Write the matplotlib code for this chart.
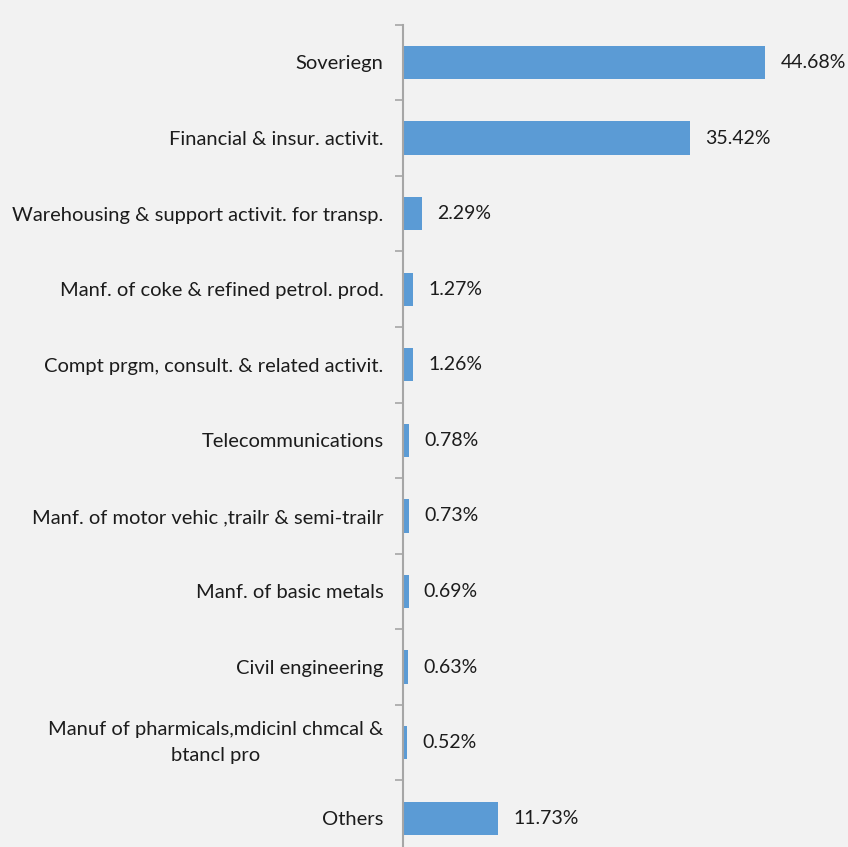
import matplotlib
matplotlib.use("Agg")
import matplotlib.pyplot as plt
import numpy as np

categories = [
    "Soveriegn",
    "Financial & insur. activit.",
    "Warehousing & support activit. for transp.",
    "Manf. of coke & refined petrol. prod.",
    "Compt prgm, consult. & related activit.",
    "Telecommunications",
    "Manf. of motor vehic ,trailr & semi-trailr",
    "Manf. of basic metals",
    "Civil engineering",
    "Manuf of pharmicals,mdicinl chmcal &\nbtancl pro",
    "Others",
]
values = [44.68, 35.42, 2.29, 1.27, 1.26, 0.78, 0.73, 0.69, 0.63, 0.52, 11.73]
value_labels = ["44.68%", "35.42%", "2.29%", "1.27%", "1.26%", "0.78%",
                "0.73%", "0.69%", "0.63%", "0.52%", "11.73%"]

plt.rcParams['font.family'] = ['Lato', 'DejaVu Sans']
bg = "#f2f2f2"
fig = plt.figure(figsize=(8.48, 8.47), dpi=100, facecolor=bg)
ax = fig.add_axes([403/848, -9/847, 1 - 403/848, (856 - 24.7)/847])
ax.set_facecolor(bg)

n = len(categories)
y = np.arange(n)
ax.barh(y, values, height=0.44, color="#5b9bd5")
ax.set_ylim(n - 0.5, -0.5)
ax.set_xlim(0, 54.9)

ax.set_yticks(y)
ax.set_yticklabels(categories, fontsize=14.5, color="#1c1c1c",
                   multialignment='center', linespacing=1.6)
for t in ax.get_yticklabels():
    if "\n" in t.get_text():
        t.set_verticalalignment('center')
ax.tick_params(axis='y', which='major', length=0, pad=14)
ax.set_yticks(np.arange(n + 1) - 0.5, minor=True)
ax.tick_params(axis='y', which='minor', length=6, width=1.2, color="#a6a6a6", direction='out')

ax.set_xticks([])
for s in ['top', 'right', 'bottom']:
    ax.spines[s].set_visible(False)
ax.spines['left'].set_color("#a6a6a6")
ax.spines['left'].set_linewidth(1.5)

for yi, v, lab in zip(y, values, value_labels):
    ax.annotate(lab, (v, yi), xytext=(11, 0), textcoords='offset points',
                va='center', ha='left', fontsize=14, color="#1c1c1c")

fig.savefig("out.png", dpi=100, facecolor=bg)
